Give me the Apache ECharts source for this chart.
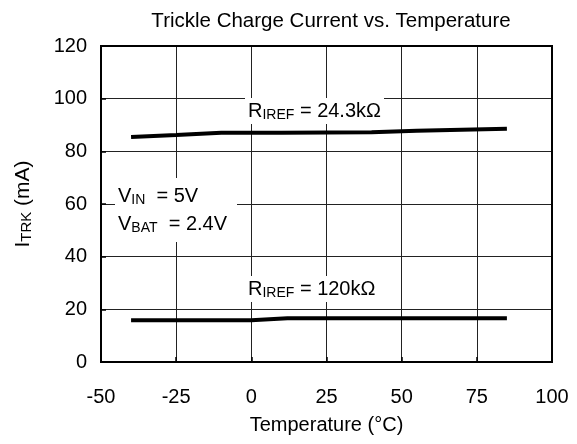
<!DOCTYPE html>
<html>
<head>
<meta charset="utf-8">
<script src="https://cdn.jsdelivr.net/npm/echarts@6/dist/echarts.min.js"></script>
<style>html,body{margin:0;padding:0;background:#fff}#c{width:577px;height:444px}</style>
</head>
<body>
<div id="c"></div>
<script>
const xTicks = [-50, -25, 0, 25, 50, 75, 100];
const yTicks = [0, 20, 40, 60, 80, 100, 120];
const temps24k = [-40, -25, -10, 10, 40, 55, 85];
const iTrk24k = [85.4, 86.2, 87.1, 87.1, 87.2, 87.8, 88.6];
const temps120k = [-40, -20, 0, 12, 25, 55, 85];
const iTrk120k = [15.9, 15.9, 15.9, 16.6, 16.6, 16.6, 16.6];

const FONT = 'Liberation Sans, Arial, sans-serif';
const chart = echarts.init(document.getElementById('c'));
const pairs = (xs, ys) => xs.map((x, i) => [x, ys[i]]);
const rich = {
  n: {fontSize: 20, fontFamily: FONT, color: '#000', lineHeight: 22, verticalAlign: 'middle'},
  s: {fontSize: 14, fontFamily: FONT, color: '#000', lineHeight: 14, verticalAlign: 'bottom'}
};
const richName = {
  n: {fontSize: 21, fontFamily: FONT, color: '#000', lineHeight: 22, verticalAlign: 'middle'},
  s: {fontSize: 15, fontFamily: FONT, color: '#000', lineHeight: 14, verticalAlign: 'bottom'}
};
function label(x, y, text, extra) {
  return {
    type: 'text', z: 100, x: x, y: y,
    style: {text: text, rich: rich, backgroundColor: '#fff', padding: [2, 3, 2, 3], fontFamily: FONT,
      lineHeight: 28}
  };
}
chart.setOption({
  animation: false,
  backgroundColor: '#fff',
  title: {
    text: 'Trickle Charge Current vs. Temperature',
    left: 326, top: 6, textAlign: 'center',
    textStyle: {fontSize: 20.5, fontWeight: 'normal', color: '#000', fontFamily: FONT}
  },
  grid: {left: 101, right: 25, top: 46, bottom: 82},
  xAxis: {
    type: 'value', min: -50, max: 100, interval: 25,
    name: 'Temperature (°C)', nameLocation: 'middle', nameGap: 53,
    nameTextStyle: {fontSize: 20, color: '#000', fontFamily: FONT},
    axisLine: {show: true, onZero: false, lineStyle: {color: '#000', width: 2}},
    axisTick: {show: true, inside: true, length: 5, lineStyle: {color: '#000', width: 1.5}},
    axisLabel: {fontSize: 20, color: '#000', margin: 25, fontFamily: FONT,
      formatter: v => xTicks.includes(v) ? String(v) : ''},
    splitLine: {show: true, lineStyle: {color: '#222', width: 1}}
  },
  yAxis: {
    type: 'value', min: 0, max: 120, interval: 20,
    name: '{n|I}{s|TRK}{n| (mA)}', nameLocation: 'middle', nameGap: 67,
    nameTextStyle: {rich: richName, lineHeight: 28},
    axisLine: {show: true, onZero: false, lineStyle: {color: '#000', width: 2}},
    axisTick: {show: true, inside: true, length: 5, lineStyle: {color: '#000', width: 1.5}},
    axisLabel: {fontSize: 20, color: '#000', margin: 14, fontFamily: FONT,
      formatter: v => yTicks.includes(v) ? String(v) : ''},
    splitLine: {show: true, lineStyle: {color: '#222', width: 1}}
  },
  graphic: [
    {type: 'rect', z: 90, silent: true, shape: {x: 101, y: 46, width: 451, height: 316},
      style: {fill: 'none', stroke: '#000', lineWidth: 2}},
    label(245, 98, '{n|R}{s|IREF}{n| = 24.3kΩ}'),
    label(245, 276, '{n|R}{s|IREF}{n| = 120kΩ}'),
    {type: 'rect', z: 95, shape: {x: 115, y: 178, width: 122, height: 64}, style: {fill: '#fff'}},
    label(115, 183, '{n|V}{s|IN}{n|  = 5V}'),
    label(115, 211, '{n|V}{s|BAT}{n|  = 2.4V}')
  ],
  series: [
    {type: 'line', data: pairs(temps24k, iTrk24k), showSymbol: false, smooth: false,
      lineStyle: {color: '#000', width: 4}},
    {type: 'line', data: pairs(temps120k, iTrk120k), showSymbol: false, smooth: false,
      lineStyle: {color: '#000', width: 4}}
  ]
});
</script>
</body>
</html>
